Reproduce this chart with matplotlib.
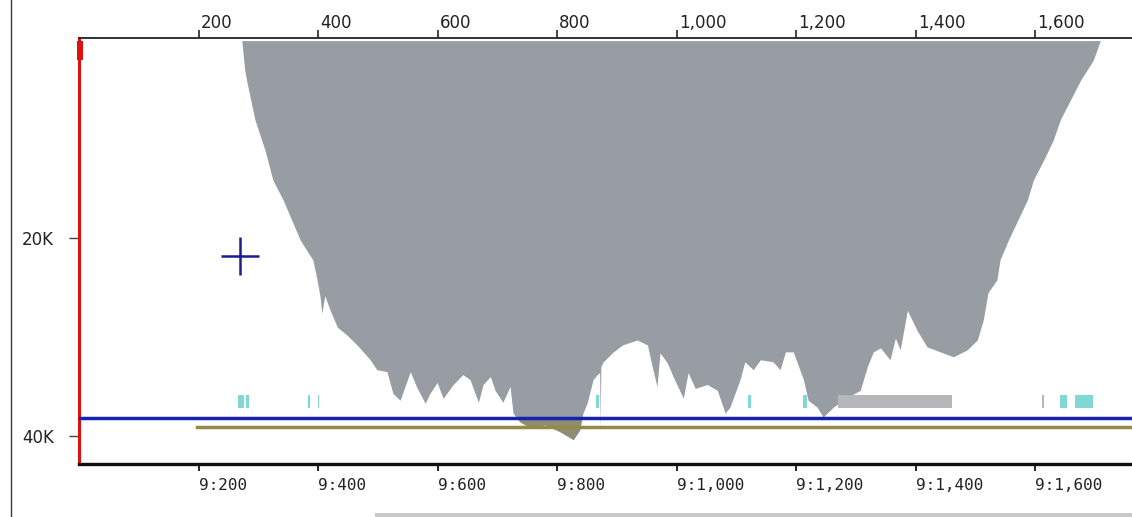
import numpy as np
import matplotlib.pyplot as plt
import matplotlib.transforms as mtransforms
from matplotlib.lines import Line2D
from matplotlib.patches import Rectangle

# coverage profile (position, depth) -- depth grows downwards
pos = [272, 277, 281, 294, 311, 324, 341, 370, 391, 398, 403, 406, 411, 420, 432, 448,
       465, 487, 498, 515, 525, 537, 554, 565, 579, 587, 599, 609, 626, 642, 654, 668,
       676, 688, 696, 709, 721, 726, 738, 755, 780, 805, 827, 838, 843, 850, 860, 867,
       871, 872, 873, 877, 894, 909, 934, 951, 959, 967, 972, 984, 994, 1011, 1019, 1031,
       1051, 1068, 1081, 1089, 1106, 1114, 1128, 1140, 1161, 1173, 1182, 1195, 1212, 1220,
       1235, 1245, 1262, 1285, 1307, 1319, 1329, 1341, 1357, 1366, 1374, 1386, 1402, 1419,
       1441, 1463, 1486, 1503, 1513, 1521, 1536, 1541, 1555, 1587, 1597, 1614, 1630, 1642,
       1659, 1676, 1697, 1709]
depth = [0, 3000, 4300, 8000, 11100, 14100, 16100, 20200, 22200, 24200, 25900, 27600,
         25800, 27300, 29000, 29800, 30800, 32300, 33300, 33500, 35700, 36400, 33500,
         35100, 36700, 35700, 34600, 36200, 34800, 33800, 34300, 36600, 34800, 34000,
         35400, 36600, 35000, 37700, 38600, 39200, 38900, 39600, 40400, 39400, 37700,
         36700, 34300, 33800, 33600, 39100, 33000, 32500, 31500, 30800, 30300, 30800,
         33000, 35000, 31600, 32600, 34000, 36200, 33600, 35200, 34800, 35400, 37700,
         37100, 34300, 32500, 33300, 32300, 32500, 33300, 31500, 31500, 34300, 36400,
         37100, 38100, 37100, 36100, 35400, 33000, 31500, 31100, 32300, 30100, 31300,
         27300, 29300, 31000, 31500, 32000, 31300, 30300, 28300, 25500, 24200, 22200,
         20200, 16100, 14100, 12100, 10100, 8000, 6000, 4000, 2000, 0]

# feature marks (start, end)
cyan_marks = [(266, 275), (279, 284), (383, 386), (399, 402), (865, 870),
              (1120, 1124), (1212, 1218), (1642, 1654), (1667, 1697)]
grey_marks = [(1270, 1461), (1611, 1614)]
mark_top, mark_bottom = 35860, 37190

blue_level = 38180
olive_level = 39120
olive_start = 197
cross = (269, 21810)

top_ticks = [200, 400, 600, 800, 1000, 1200, 1400, 1600]
top_labels = ['200', '400', '600', '800', '1,000', '1,200', '1,400', '1,600']
bottom_labels = ['9:200', '9:400', '9:600', '9:800', '9:1,000', '9:1,200', '9:1,400', '9:1,600']
y_ticks = [20000, 40000]
y_labels = ['20K', '40K']

fig = plt.figure(figsize=(11.32, 5.17), dpi=100)
ax = fig.add_axes([0.07, 0.1025, 0.93, 0.824])
xmin, xmax = 0, 1762
ax.set_xlim(xmin, xmax)
ax.set_ylim(42850, -263)

pos = np.array(pos)
depth = np.array(depth)
ax.fill_between(pos, 0, depth, color='#979da3', lw=0, zorder=1)
ax.fill_between(pos, blue_level, depth, where=depth > blue_level, interpolate=True,
                color='#8e8c72', lw=0, zorder=1.5)

for s, e in cyan_marks:
    ax.bar(s, mark_bottom - mark_top, width=e - s, bottom=mark_top, align='edge',
           color='#7fd8d4', lw=0, zorder=2)
for s, e in grey_marks:
    ax.bar(s, mark_bottom - mark_top, width=e - s, bottom=mark_top, align='edge',
           color='#b6b7ba', lw=0, zorder=2)

ax.plot([xmin, xmax], [blue_level, blue_level], color='#1622b0', lw=2.5, zorder=3)
ax.plot([olive_start, xmax], [olive_level, olive_level], color='#968a45', lw=2.5, zorder=3)
ax.plot(*cross, marker='+', ms=28, mew=1.8, color='#1c1c8c', zorder=4)

# red marker at the top of the left edge
ax.bar(-3, 2000, width=9, bottom=0, align='edge', color='#dd1111', lw=0,
       clip_on=False, zorder=5)

ax.spines['right'].set_visible(False)
ax.spines['left'].set_color('#dd1111')
ax.spines['left'].set_linewidth(2.2)
ax.spines['bottom'].set_linewidth(2.4)
ax.spines['bottom'].set_color('#111111')
ax.spines['top'].set_linewidth(1.3)
ax.spines['top'].set_color('#222222')

ax.set_xticks(top_ticks)
ax.set_xticklabels(bottom_labels, family='DejaVu Sans Mono', fontsize=11.5, color='#222222')
ax.tick_params(axis='x', direction='out', length=5, width=1.4, pad=5, color='#222222')
for lab in ax.get_xticklabels():
    lab.set_horizontalalignment('left')

ax.set_yticks(y_ticks)
ax.set_yticklabels(y_labels, fontsize=12, color='#222222')
ax.tick_params(axis='y', direction='out', length=7, width=1, pad=11, color='#444444')

ax2 = ax.twiny()
ax2.set_xlim(xmin, xmax)
ax2.set_xticks(top_ticks)
ax2.set_xticklabels(top_labels, fontsize=12, color='#222222')
ax2.tick_params(axis='x', direction='out', length=5.5, width=1.2, pad=-1.5, color='#222222')
offset = mtransforms.ScaledTranslation(2 / 100, 0, fig.dpi_scale_trans)
for lab in ax2.get_xticklabels():
    lab.set_horizontalalignment('left')
    lab.set_transform(lab.get_transform() + offset)
for side in ['left', 'right', 'bottom', 'top']:
    ax2.spines[side].set_visible(False)

# window frame bits
fig.add_artist(Line2D([11 / 1132, 11 / 1132], [0, 1], color='#3a3a3a', lw=1))
fig.add_artist(Rectangle((375 / 1132, 0), 1 - 375 / 1132, 4 / 517, color='#c8c8c8', lw=0))

fig.savefig('out.png', dpi=100)
